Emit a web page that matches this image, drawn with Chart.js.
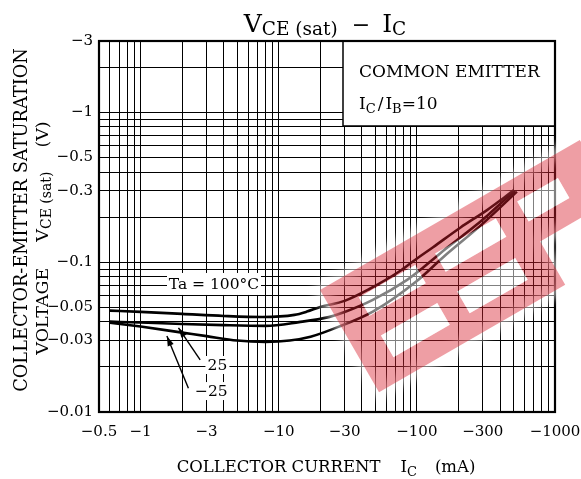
<!DOCTYPE html>
<html><head><meta charset="utf-8">
<script src="https://cdn.jsdelivr.net/npm/chart.js@4.4.0/dist/chart.umd.min.js"></script>
<style>html,body{margin:0;padding:0;background:#fff;}#wrap{width:581px;height:479px;}</style>
</head><body><div id="wrap"><canvas id="c" width="581" height="479"></canvas></div>
<script>
// ---- data (magnitudes; the axes are labelled negative) ----
const xTickLabels = [0.5, 1, 3, 10, 30, 100, 300, 1000];
const yTickLabels = [0.01, 0.03, 0.05, 0.1, 0.3, 0.5, 1, 3];
const seriesNames = ['Ta = 100°C', '25', '−25'];

const currentTa100 = [0.6, 1, 2, 4, 7.6, 13, 16, 20, 30, 45, 75, 94, 131, 206, 322, 402, 500];
const vceTa100     = [0.0475, 0.0466, 0.0452, 0.0438, 0.0431, 0.0445, 0.0468, 0.0503, 0.0552, 0.066, 0.087, 0.1015, 0.126, 0.17, 0.223, 0.259, 0.302];

const current25 = [0.6, 1, 2, 4, 8, 14, 23, 30, 48, 85, 106, 148, 273, 320, 475, 515];
const vce25     = [0.0401, 0.0396, 0.0387, 0.038, 0.0376, 0.0398, 0.043, 0.0465, 0.056, 0.0762, 0.089, 0.115, 0.179, 0.203, 0.281, 0.297];

const currentM25 = [0.6, 1, 2, 3, 5, 8, 12, 17, 27, 48, 100, 155, 300, 530];
const vceM25     = [0.0395, 0.0372, 0.0339, 0.0321, 0.0300, 0.0294, 0.0300, 0.0318, 0.037, 0.0468, 0.075, 0.108, 0.181, 0.296];

// grid positions (1..9 per decade)
function logGrid(lo, hi){
  const out=[];
  for(let e=-3;e<=4;e++){ for(let m=1;m<10;m++){ const v=parseFloat((m*Math.pow(10,e)).toPrecision(3)); if(v>=lo-1e-12 && v<=hi+1e-12) out.push(v);} }
  return out;
}
const xGrid = logGrid(0.5, 1000);
const yGrid = logGrid(0.01, 3);

const FONT = '"DejaVu Serif", serif';
const pts = (xs, ys) => xs.map((v,i)=>({x:v, y:ys[i]}));

function drawRuns(ctx, runs, cx, baseY){
  let w=0;
  runs.forEach(r=>{ ctx.font = r.size+'px '+FONT; r.w = ctx.measureText(r.t).width; w += r.w + (r.gap||0); });
  let x = cx - w/2;
  ctx.textAlign='left'; ctx.textBaseline='alphabetic';
  runs.forEach(r=>{ ctx.font = r.size+'px '+FONT; ctx.fillText(r.t, x, baseY + (r.dy||0)); x += r.w + (r.gap||0); });
}
function arrow(ctx, x1,y1,x2,y2){
  ctx.beginPath(); ctx.moveTo(x1,y1); ctx.lineTo(x2,y2); ctx.lineWidth=1.4; ctx.stroke();
  const a=Math.atan2(y2-y1,x2-x1), L=10, H=3.2;
  ctx.beginPath(); ctx.moveTo(x2,y2);
  ctx.lineTo(x2-L*Math.cos(a)+H*Math.sin(a), y2-L*Math.sin(a)-H*Math.cos(a));
  ctx.lineTo(x2-L*Math.cos(a)-H*Math.sin(a), y2-L*Math.sin(a)+H*Math.cos(a));
  ctx.closePath(); ctx.fill();
}

const deco = {
  id:'deco',
  beforeDatasetsDraw(chart){
    const {ctx, chartArea:a, scales:{x,y}} = chart;
    ctx.save();
    // COMMON EMITTER box
    const bx=343, by=126;
    ctx.fillStyle='#fff'; ctx.fillRect(bx, a.top, a.right-bx, by-a.top);
    ctx.strokeStyle='#000'; ctx.lineWidth=1.5;
    ctx.beginPath(); ctx.moveTo(bx,a.top); ctx.lineTo(bx,by); ctx.lineTo(a.right,by); ctx.stroke();
    ctx.fillStyle='#000';
    ctx.font='17px '+FONT; ctx.textAlign='left'; ctx.textBaseline='alphabetic';
    ctx.fillText('COMMON EMITTER', 359, 77);
    let xx=359; const base=109;
    [['I',17,0],['C',13,4],['/',17,0],['I',17,0],['B',13,4],['=10',17,0]].forEach(([t,s,dy],i)=>{
      ctx.font=s+'px '+FONT; ctx.fillText(t, xx, base+dy); xx+=ctx.measureText(t).width + (i===1||i===2?2:0);
    });
    // Ta label
    const tx=x.getPixelForValue(3.4), ty=y.getPixelForValue(0.0716);
    ctx.fillStyle='#fff'; ctx.fillRect(tx-47, ty-11, 94, 22);
    ctx.fillStyle='#000'; ctx.font='15.5px '+FONT; ctx.textAlign='center'; ctx.textBaseline='middle';
    ctx.fillText(seriesNames[0], tx, ty+1);
    // 25 / -25 labels
    const l1x=x.getPixelForValue(3.6), l1y=y.getPixelForValue(0.0206);
    const l2x=x.getPixelForValue(3.25), l2y=y.getPixelForValue(0.0138);
    ctx.fillStyle='#fff'; ctx.fillRect(l1x-12,l1y-9,24,18); ctx.fillRect(l2x-18,l2y-9,36,18);
    ctx.fillStyle='#000';
    ctx.fillText(seriesNames[1], l1x, l1y+1);
    ctx.fillText(seriesNames[2], l2x, l2y+1);
    ctx.restore();
  },
  afterDatasetsDraw(chart){
    const {ctx, chartArea:a, scales:{x,y}} = chart;
    ctx.save();
    ctx.strokeStyle='#000'; ctx.fillStyle='#000';
    arrow(ctx, x.getPixelForValue(2.7), y.getPixelForValue(0.0223), x.getPixelForValue(1.88), y.getPixelForValue(0.0365));
    arrow(ctx, x.getPixelForValue(2.22), y.getPixelForValue(0.0144), x.getPixelForValue(1.55), y.getPixelForValue(0.0322));
    ctx.lineWidth=2.2; ctx.strokeRect(a.left, a.top, a.right-a.left, a.bottom-a.top);
    // chart title
    ctx.fillStyle='#000';
    drawRuns(ctx,[{t:'V',size:25},{t:'CE (sat)',size:18.5,dy:3,gap:14},{t:'−',size:22,gap:12},{t:'I',size:25},{t:'C',size:18.5,dy:3}], 325, 32);
    // x title
    drawRuns(ctx,[{t:'COLLECTOR CURRENT',size:16.5,gap:20},{t:'I',size:16.5},{t:'C',size:13,dy:4,gap:18},{t:'(mA)',size:16.5}], 326, 472);
    // y title
    ctx.save(); ctx.translate(27, 220); ctx.rotate(-Math.PI/2);
    drawRuns(ctx,[{t:'COLLECTOR-EMITTER SATURATION',size:17.8}], 0, 0);
    ctx.restore();
    ctx.save(); ctx.translate(48, 238); ctx.rotate(-Math.PI/2);
    drawRuns(ctx,[{t:'VOLTAGE',size:17.5,gap:26},{t:'V',size:17.5},{t:'CE (sat)',size:14,dy:3,gap:24},{t:'(V)',size:17.5}], 0, 0);
    ctx.restore();
    ctx.restore();
  },
  afterDraw(chart){
    // translucent watermark overlay
    const ctx = chart.ctx;
    ctx.save();
    ctx.translate(320, 290); ctx.rotate(-Math.PI/6);
    const outline = ()=>{ ctx.beginPath(); ctx.moveTo(0,0); ctx.lineTo(300,0); ctx.lineTo(300,68); ctx.lineTo(215,68); ctx.lineTo(215,118); ctx.lineTo(0,118); ctx.closePath(); };
    // soft white halo
    ctx.save();
    ctx.filter='blur(4px)';
    outline(); ctx.strokeStyle='rgba(255,255,255,0.55)'; ctx.lineWidth=14; ctx.lineJoin='round'; ctx.stroke();
    ctx.restore();
    outline();
    const holes=[[30,26,65,21],[30,70,65,25],[118,26,70,21],[118,70,67,25],[215,22,47,23]];
    holes.forEach(([u,v,w,h])=>{ ctx.moveTo(u,v); ctx.lineTo(u,v+h); ctx.lineTo(u+w,v+h); ctx.lineTo(u+w,v); ctx.closePath(); });
    ctx.fillStyle='rgba(215,30,45,0.43)';
    ctx.fill('nonzero');
    ctx.fillStyle='rgba(255,255,255,0.5)';
    holes.forEach(([u,v,w,h])=>ctx.fillRect(u,v,w,h));
    ctx.restore();
  }
};

const ds = (data)=>({data, borderColor:'#000', borderWidth:2.6, pointRadius:0, fill:false, cubicInterpolationMode:'monotone'});

new Chart(document.getElementById('c'), {
  type:'line',
  data:{ datasets:[ ds(pts(currentTa100,vceTa100)), ds(pts(current25,vce25)), ds(pts(currentM25,vceM25)) ] },
  options:{
    responsive:false, animation:false, parsing:true,
    layout:{padding:{left:0, top:41, right:26, bottom:0}},
    plugins:{legend:{display:false}, tooltip:{enabled:false}, title:{display:false}},
    scales:{
      x:{ type:'logarithmic', min:0.5, max:1000,
          afterBuildTicks:(s)=>{ s.ticks = xGrid.map(v=>({value:v})); },
          afterFit:(s)=>{ s.height=67; s.paddingLeft=0; s.paddingRight=0; },
          ticks:{ autoSkip:false, maxRotation:0, padding:11, color:'#000', font:{family:FONT, size:15},
                  callback:(v)=> xTickLabels.includes(v) ? '−' + v : '' },
          grid:{ color:'#000', lineWidth:1, drawTicks:false },
          border:{ display:true, color:'#000', width:2 } },
      y:{ type:'logarithmic', min:0.01, max:3,
          afterBuildTicks:(s)=>{ s.ticks = yGrid.map(v=>({value:v})); },
          afterFit:(s)=>{ s.width=99; s.paddingTop=0; s.paddingBottom=0; },
          ticks:{ autoSkip:false, padding:6, color:'#000', font:{family:FONT, size:15},
                  callback:(v)=> yTickLabels.includes(v) ? '−' + v : '' },
          grid:{ color:'#000', lineWidth:1, drawTicks:false },
          border:{ display:true, color:'#000', width:2 } }
    }
  },
  plugins:[deco]
});
</script></body></html>
